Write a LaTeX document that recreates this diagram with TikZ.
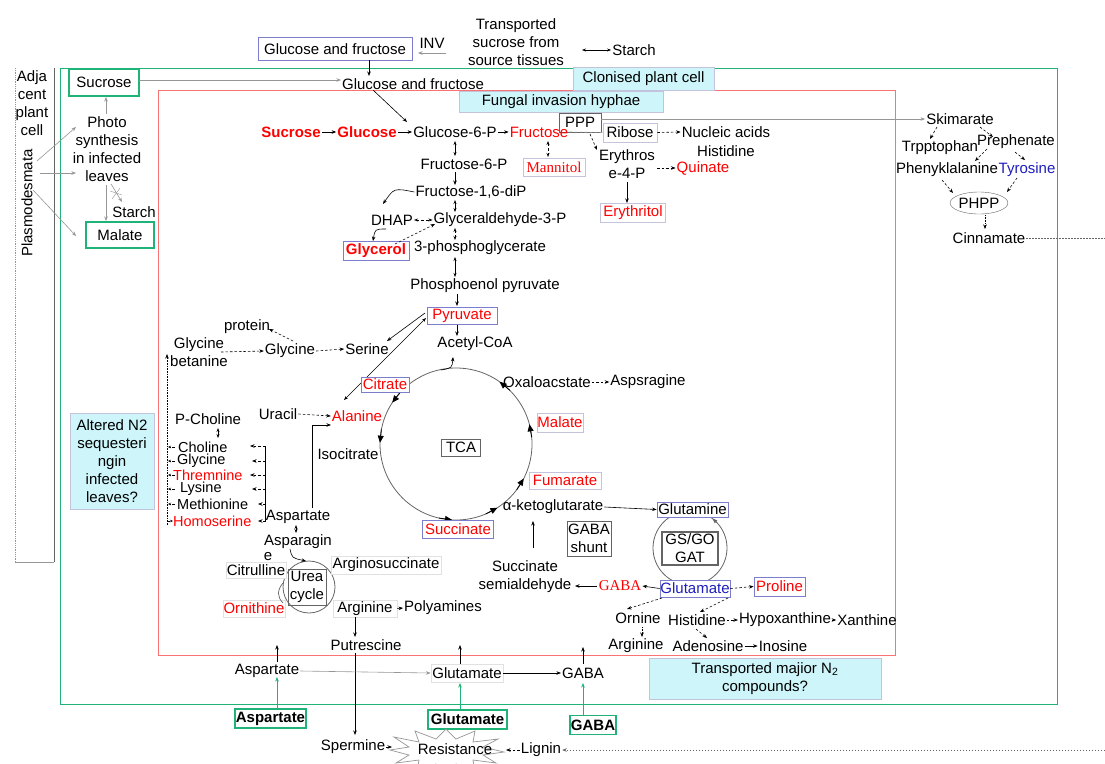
\documentclass[tikz,border=0pt]{standalone}
\usepackage{fontspec}
\setmainfont{Liberation Sans}
\newfontfamily\tnr{Liberation Serif}
\usetikzlibrary{arrows.meta,calc,shapes.geometric}
\definecolor{gc}{RGB}{30,180,120}
\definecolor{rc}{RGB}{250,115,115}
\definecolor{bb}{RGB}{125,125,205}
\definecolor{lb}{RGB}{195,195,220}
\definecolor{vl}{RGB}{225,225,225}
\definecolor{cy}{RGB}{205,245,250}
\definecolor{bt}{RGB}{30,30,190}
\definecolor{rt}{RGB}{255,0,0}
\definecolor{dg}{RGB}{100,100,100}
\definecolor{lg}{RGB}{150,150,150}
\begin{document}
\begin{tikzpicture}[x=1pt,y=-1pt, font=\fontsize{15}{18}\selectfont,
 every node/.style={inner sep=1pt, align=center},
 ar/.style={-{Stealth[length=4.5pt,width=3.5pt]}, line width=0.6pt},
 sar/.style={-{Stealth[length=3pt,width=2.5pt]}, line width=0.5pt, densely dashed},
 dar/.style={ar, dash pattern=on 2.5pt off 2pt},
 dd/.style={{Stealth[length=4pt,width=3pt]}-{Stealth[length=4pt,width=3pt]}, line width=0.6pt},
 bbox/.style={draw=bb, line width=0.8pt, fill=white, inner sep=0pt},
 lbox/.style={draw=lb, line width=0.8pt, fill=white, inner sep=0pt},
 vlbox/.style={draw=vl, line width=0.8pt, fill=white, inner sep=0pt},
 kbox/.style={draw=dg, line width=1pt, inner sep=0pt},
 gbox/.style={draw=gc, line width=1.4pt, fill=white, inner sep=0pt},
 cbox/.style={draw=lb, fill=cy, inner sep=0pt},
 rd/.style={text=rt},
 lst/.style={anchor=west, font=\fontsize{14.5}{16}\selectfont},
 bld/.style={font=\fontsize{15}{18}\selectfont\bfseries},
 serf/.style={font=\tnr\fontsize{15}{18}\selectfont},
 tip/.style={-{Triangle[length=7pt,width=6pt]}, black, line width=0.8pt}]
\useasboundingbox (0,0) rectangle (1105,763);
% frames
\draw[lg, densely dotted, line width=0.8pt] (15,68) -- (15,562);
\draw[dg, line width=0.8pt] (54,68) -- (54,562);
\draw[lg, line width=0.8pt] (54,562) -- (15,562);
\draw[gc, line width=1pt] (60,68) rectangle (1057,704);
\draw[rc, line width=1pt] (158,90) rectangle (895,655);
% circles
\coordinate (tc) at (456,444);
\draw[dg, line width=0.8pt] (tc) circle[radius=76pt];
\coordinate (gsc) at (690,548);
\draw[dg, line width=0.8pt] (gsc) circle[radius=37pt];
\coordinate (uc) at (309,587);
\draw[dg, line width=0.8pt] (uc) circle[radius=26pt];
\foreach \a/\b in {213/223,181/191,93/103,57/67,27/37,-15/-5,-55/-45}
  \draw[tip] ($(tc)+(\b:76)$) -- ($(tc)+(\a:76)$);
\draw[-{Latex[length=5pt,width=4pt]}, dg] ($(gsc)+(-44:37)$) -- ($(gsc)+(-53:37)$);
% top
\node[bbox, minimum width=154, minimum height=23] (gfa) at (335,49) {Glucose and fructose};
\node (inv) at (432,43) {INV};
\coordinate (invr) at (446,53);
\draw[ar, lg] (invr) -- (418,53);
\node (tss) at (516,42) {Transported\\sucrose from\\source tissues};
\node (sta1) at (634,50) {Starch};
\draw[dd] (582,50) -- (sta1.west);
\node (gfb) at (413,84) {Glucose and fructose};
\draw[ar] (369,60) -- (369,76);
% left column
\node (adja) at (32,103) {Adja\\cent\\plant\\cell};
\node[rotate=90] (plas) at (27,203) {Plasmodesmata};
\node[gbox, minimum width=70, minimum height=27] (sucl) at (104,82.5) {Sucrose};
\node (photo) at (107,149) {Photo\\synthesis\\in infected\\leaves};
\node (stal) at (134,212) {Starch};
\node[gbox, minimum width=68, minimum height=26] (mall) at (120,235) {Malate};
\node[cbox, minimum width=84, minimum height=96] (alt) at (112,461) {Altered N2\\sequesteri\\ngin\\infected\\leaves?};
\draw[ar, lg] (106,114) -- (106,97);
\draw[ar, lg] (37,161) -- (76,127);
\draw[ar, lg] (40,173) -- (76,173);
\draw[ar, lg] (33,190) -- (76,236);
\draw[ar, lg] (106,185) -- (106,221);
\draw[ar, lg] (111,184) -- (122,202);
\draw[lg] (110,191) -- (122,195);
\draw[lg] (112,199) -- (120,188);
\draw[ar, lg] (139,80) -- (341,80);
% boxes on frames
\node[cbox, minimum width=141, minimum height=23] (clon) at (643.5,78.5) {Clonised plant cell};
\node[cbox, minimum width=204, minimum height=21] (fung) at (561,101.5) {Fungal invasion hyphae};
\draw[ar] (373,90) -- (407,122);
% main row
\node[rd, bld] (suc) at (291,132) {Sucrose};
\node[rd, bld] (glc) at (367,132) {Glucose};
\node (g6p) at (455,132) {Glucose-6-P};
\node[kbox, minimum width=42, minimum height=19] (ppp) at (580,122.5) {PPP};
\node[rd] (fru) at (539,132) {Fructose};
\draw[ar] (suc) -- (glc);
\draw[ar] (glc) -- (g6p);
\draw[ar] (g6p) -- (fru);
\node[lbox, minimum width=54, minimum height=19] (rib) at (630,132.5) {Ribose};
\draw[lg, densely dashed, line width=0.6pt] (fru.east) -- (rib.west);
\draw[dar] (590,134) -- (597,150);
\node (ery) at (627,164) {Erythros\\e-4-P};
\node (nuc) at (726,132) {Nucleic acids};
\node (his1) at (726,151) {Histidine};
\draw[dar] (rib.east) -- (nuc.west);
\node[rd] (qui) at (703,168) {Quinate};
\draw[dar] (657,168) -- (qui.west);
\node[lbox, rd, minimum width=65, minimum height=19] (eryt) at (633,213) {Erythritol};
\draw[ar] (627,182) -- (627,203);
\node[lbox, serf, text=rt, minimum width=62, minimum height=18] (man) at (554,167) {Mannitol};
\draw[dd, densely dashed] (548,141) -- (548,157);
\node (f6p) at (464,164) {Fructose-6-P};
\draw[dd] (455,141) -- (455,156);
\node (f16) at (471,192) {Fructose-1,6-diP};
\draw[ar] (455,172) -- (455,185);
\node (dhap) at (392,220) {DHAP};
\node (gap) at (500,220) {Glyceraldehyde-3-P};
\draw[dd] (455,200) -- (455,212);
\draw[ar] (f16.west) .. controls (394,188) .. (383,204);
\draw[dd, densely dashed] (dhap.east) -- (gap.west);
\draw[ar] (386,229) .. controls (375,229) .. (373,241);
\node[bbox, rd, bld, minimum width=66, minimum height=19] (gly) at (376,251) {Glycerol};
\draw[dar] (395,244) -- (435,224);
\node (pga) at (480,248) {3-phosphoglycerate};
\draw[dd, densely dashed] (455,228) -- (455,240);
\node (pep) at (485,286) {Phosphoenol pyruvate};
\draw[dd] (455,257) -- (455,277);
\node[bbox, rd, minimum width=70, minimum height=17] (pyr) at (462,315.5) {Pyruvate};
\draw[ar] (457,294) -- (457,306);
\node (acoa) at (475,344) {Acetyl-CoA};
\draw[ar] (457,325) -- (457,336);
\node (ser) at (367,349) {Serine};
\draw[ar] (425,313) -- (387,341);
\draw[dd] (344,400) -- (426,318);
% glycine section
\node (gb) at (199,352.5) {Glycine\\betanine};
\node (prot) at (247,327) {protein};
\node (gly2) at (290,351) {Glycine};
\draw[dar] (293,341) -- (269,329);
\draw[dar] (221,352) -- (gly2.west);
\draw[dar] (gly2.east) -- (ser.west);
\node[anchor=west] (pch) at (174,419) {P-Choline};
\node[lst] (cho) at (177,447) {Choline};
\node[lst] (gly3) at (176,461) {Glycine};
\node[lst, rd] (thr) at (172,475) {Thremnine};
\node[lst] (lys) at (179,489) {Lysine};
\node[lst] (met) at (176,504) {Methionine};
\node[lst, rd] (hom) at (172,521) {Homoserine};
\draw[dd] (218,428) -- (218,438);
\draw[ar, densely dotted] (167,525) -- (167,354);
\foreach \y in {447,461,475,489,504} \draw[sar] (175,\y) -- (168,\y);
\draw[sar] (167,521) -- (173,521);
\draw[line width=0.6pt] (265,446) -- (265,522);
\foreach \y/\xe in {446/250,461/252,475/250,489/252,504/258,521/258} \draw[dar] (265,\y) -- (\xe,\y);
% alanine, TCA
\node (asp1) at (298,517) {Aspartate};
\node (ura) at (278,414) {Uracil};
\node[rd] (ala) at (357,416) {Alanine};
\draw[dar] (ura.east) -- (ala.west);
\draw[ar] (312,508) -- (312,425) -- (331,425);
\node (iso) at (348,454) {Isocitrate};
\node[bbox, rd, minimum width=48, minimum height=15] (cit) at (385,384.5) {Citrate};
\node[kbox, minimum width=39, minimum height=17] (tca) at (461,447.5) {TCA};
\draw[ar] (441,370) .. controls (452,368) .. (453,357);
\node (oxa) at (547,382) {Oxaloacstate};
\node (asps) at (648,382) {Aspsragine};
\draw[dar] (oxa.east) -- (asps.west);
\node[lbox, rd, minimum width=46, minimum height=19] (mal2) at (560,422.5) {Malate};
\node[lbox, rd, minimum width=72, minimum height=17] (fum) at (565,480.5) {Fumarate};
\node (akg) at (553,507) {α-ketoglutarate};
\node[bbox, minimum width=71, minimum height=15] (gln) at (692.5,509.5) {Glutamine};
\draw[ar] (akg.east) -- (gln.west);
\node[bbox, rd, minimum width=71, minimum height=18] (succ) at (458,529) {Succinate};
\node[kbox, minimum width=44, minimum height=35] (gshunt) at (589,538.5) {GABA\\shunt};
\node (ssa) at (525,577) {Succinate\\semialdehyde};
\draw[ar] (533,548) -- (533,521);
\node[serf, text=rt] (gabar) at (620,586) {GABA};
\draw[ar] (597,586) -- (575,586);
\node[bbox, text=bt, minimum width=70, minimum height=17] (glu) at (695,588.5) {Glutamate};
\node[kbox, line width=1.2pt, minimum width=56, minimum height=33] (gsgo) at (690,548.5) {GS/GO\\GAT};
\draw[ar] (glu.west) -- (gabar.east);
\node[bbox, rd, minimum width=51, minimum height=19] (pro) at (779.5,586.5) {Proline};
\draw[dar] (glu.east) -- (pro.west);
\node (orn2) at (638,618) {Ornine};
\node (his2) at (697,620) {Histidine};
\draw[dar] (662,598) -- (627,609);
\draw[dar] (728,598) -- (700,612);
\node (hyp) at (785,620) {Hypoxanthine};
\node (xan) at (867,620) {Xanthine};
\draw[dar] (his2.east) -- (hyp.west);
\draw[ar] (hyp.east) -- (xan.west);
\node (arg2) at (636,646) {Arginine};
\node (ade) at (708,646) {Adenosine};
\node (ino) at (783,646) {Inosine};
\draw[ar, densely dotted] (642,627) -- (642,637);
\draw[dar] (696,629) -- (707,638);
\draw[ar] (ade.east) -- (ino.west);
% urea
\draw[dd] (296,525) -- (296,533);
\node[anchor=west] (aspg) at (263,542) {Asparagin};
\node (aspe) at (268,557) {e};
\draw[ar] (290,549) .. controls (292,558) .. (306,561);
\node[kbox, minimum width=38, minimum height=36] (urea) at (307,587) {Urea\\cycle};
\node[vlbox, minimum width=60, minimum height=16] (cit2) at (256,570) {Citrulline};
\node[vlbox, rd, minimum width=62, minimum height=17] (orn1) at (254,608.5) {Ornithine};
\draw[dg, line width=0.7pt] (283,583) .. controls (277,590) and (277,597) .. (283,603);
\node[vlbox, minimum width=110, minimum height=18] (args) at (386,565) {Arginosuccinate};
\node[vlbox, minimum width=64, minimum height=17] (arg1) at (365,608.5) {Arginine};
\node (poly) at (443,608) {Polyamines};
\draw[dar] (arg1.east) -- (poly.west);
\node (put) at (366,645) {Putrescine};
\draw[ar] (355,617) -- (355,637);
\draw[ar] (355,653) -- (355,735);
\node (sper) at (353,747) {Spermine};
% bottom
\node (asp2) at (267,671) {Aspartate};
\node[vlbox, minimum width=72, minimum height=18] (glu2) at (467,673) {Glutamate};
\node (gaba2) at (583,673) {GABA};
\draw[ar] (277,662) -- (277,645);
\draw[ar] (460,664) -- (460,645);
\draw[ar] (583,664) -- (583,647);
\draw[ar, lg] (asp2.east) -- (glu2.west);
\draw[ar] (glu2.east) -- (gaba2.west);
\node[gbox, bld, minimum width=71, minimum height=19] (aspG) at (270.5,718.5) {Aspartate};
\node[gbox, bld, minimum width=79, minimum height=19] (gluG) at (467.5,719.5) {Glutamate};
\node[gbox, bld, minimum width=46, minimum height=19] (gabaG) at (593,725) {GABA};
\draw[ar, gc] (277,709) -- (277,677);
\draw[ar, gc] (460,710) -- (460,683);
\draw[ar, gc] (583,716) -- (583,683);
\node[cbox, minimum width=232, minimum height=41] (tn2) at (765,678.5) {Transported majior N\textsubscript{2}\\compounds?};
% starburst
\draw[lg, line width=0.7pt, fill=white] (504,752) -- (483,755) -- (496,763) -- (473,760) -- (475,771) -- (456,764) -- (446,774) -- (436,764) -- (417,771) -- (419,760) -- (396,763) -- (409,755) -- (390,750) -- (409,747) -- (394,737) -- (419,742) -- (415,731) -- (436,739) -- (446,729) -- (456,739) -- (475,731) -- (473,742) -- (498,739) -- (483,747) -- cycle;
\node (rest) at (455,749) {Resistance};
\draw[ar] (sper.east) -- (392,747);
\node (lig) at (541,750) {Lignin};
\draw[dar] (lig.west) -- (506,750);
\coordinate (rl) at (1105,750);
\draw[ar, dg, dash pattern=on 1.5pt off 1.5pt] (rl) -- (lig.east);
% right side
\node (skim) at (960,119) {Skimarate};
\draw[ar, lg] (601,119) -- (skim.west);
\node (trp) at (940,148) {Trpptophan};
\node (pre) at (1016,142) {Prephenate};
\node (phe) at (947,170) {Phenyklalanine};
\node[text=bt] (tyr) at (1027,170) {Tyrosine};
\node[ellipse, draw=dg, minimum width=48, minimum height=22, inner sep=0pt] (phpp) at (979,203) {PHPP};
\node (cin) at (989,238) {Cinnamate};
\draw[dar] (937,127) -- (930,139);
\draw[dar] (980,127) -- (993,137);
\draw[dar] (987,149) -- (975,161);
\draw[dar] (1015,152) -- (1025,160);
\draw[dar] (942,180) -- (953,193);
\draw[dar] (1017,178) -- (1007,192);
\draw[ar, densely dotted] (985,215) -- (985,229);
\coordinate (rc1) at (1105,238);
\draw[dg, dash pattern=on 1.5pt off 1.5pt] (cin.east) -- (rc1);
\end{tikzpicture}
\end{document}
